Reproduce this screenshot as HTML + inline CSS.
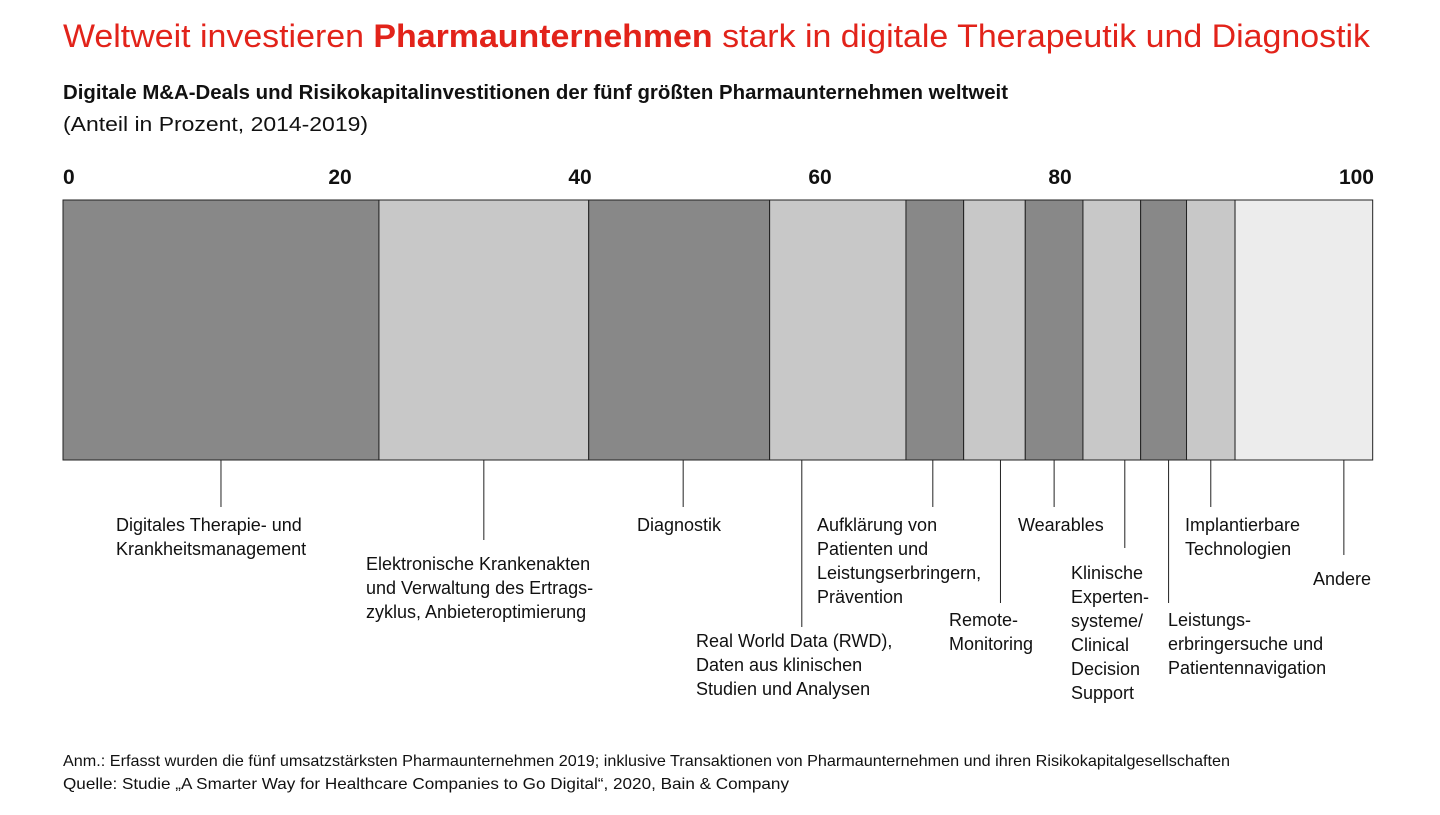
<!DOCTYPE html>
<html><head><meta charset="utf-8">
<style>
body{margin:0;width:1440px;height:810px;background:#fff;font-family:"Liberation Sans",sans-serif;overflow:hidden}
svg text{font-family:"Liberation Sans",sans-serif}
</style></head>
<body>
<svg width="1440" height="810">
<text x="63" y="47" font-size="32" fill="#e2231a" textLength="1307" lengthAdjust="spacingAndGlyphs">Weltweit investieren <tspan font-weight="bold">Pharmaunternehmen</tspan> stark in digitale Therapeutik und Diagnostik</text>
<text x="63" y="99" font-size="20" font-weight="bold" fill="#111" textLength="945" lengthAdjust="spacingAndGlyphs">Digitale M&amp;A-Deals und Risikokapitalinvestitionen der fünf größten Pharmaunternehmen weltweit</text>
<text x="63" y="131" font-size="20" fill="#111" textLength="305" lengthAdjust="spacingAndGlyphs">(Anteil in Prozent, 2014-2019)</text>
<g id="ticks"></g>
<g id="bars"></g>
<g id="labels"></g>
<text x="63" y="766" font-size="16" fill="#111" textLength="1167" lengthAdjust="spacingAndGlyphs">Anm.: Erfasst wurden die fünf umsatzstärksten Pharmaunternehmen 2019; inklusive Transaktionen von Pharmaunternehmen und ihren Risikokapitalgesellschaften</text>
<text x="63" y="789" font-size="16" fill="#111" textLength="726" lengthAdjust="spacingAndGlyphs">Quelle: Studie „A Smarter Way for Healthcare Companies to Go Digital“, 2020, Bain &amp; Company</text>
</svg>
<script>
const categories=[["Digitales Therapie- und","Krankheitsmanagement"],["Elektronische Krankenakten","und Verwaltung des Ertrags-","zyklus, Anbieteroptimierung"],["Diagnostik"],["Real World Data (RWD),","Daten aus klinischen","Studien und Analysen"],["Aufklärung von","Patienten und","Leistungserbringern,","Prävention"],["Remote-","Monitoring"],["Wearables"],["Klinische","Experten-","systeme/","Clinical","Decision","Support"],["Leistungs-","erbringersuche und","Patientennavigation"],["Implantierbare","Technologien"],["Andere"]];
const values=[24.1,16.0,13.8,10.4,4.4,4.7,4.4,4.4,3.5,3.7,10.5];
const shades=["#888888","#c8c8c8","#888888","#c8c8c8","#888888","#c8c8c8","#888888","#c8c8c8","#888888","#c8c8c8","#ececec"];
const tickValues=[0,20,40,60,80,100];
const tickLabels=["0","20","40","60","80","100"];
// annotation layout
const lineDx=[0,0,4,-36,-2,6,0,13,5,0,40];
const lineEnd=[507,540,507,627,507,603,507,548,603,507,555];
const labelX=[116,366,637,696,817,949,1018,1071,1168,1185,1313];
const labelY=[525,564,525,641,525,620,525,573,620,525,579];
const NS="http://www.w3.org/2000/svg";
const X0=63,X1=1374,Y0=200,Y1=460;
const x=v=>X0+(X1-X0)*v/100;
function mk(t,a,p){const e=document.createElementNS(NS,t);for(const k in a)e.setAttribute(k,a[k]);p.appendChild(e);return e;}
const tg=document.getElementById('ticks');
tickValues.forEach((v,i)=>{
 let xx,anchor="middle";
 if(i===0){xx=x(v);anchor="start";}else if(i===tickValues.length-1){xx=x(v);anchor="end";}else{xx=100+12*v;}
 const t=mk('text',{x:xx,y:184,'font-size':21,'font-weight':'bold','text-anchor':anchor,fill:'#111'},tg);
 t.textContent=tickLabels[i];
 
 
});
const bg=document.getElementById('bars'),lg=document.getElementById('labels');
let cum=0;
values.forEach((v,i)=>{
 const r=mk('rect',{x:x(cum),y:Y0,width:x(cum+v)-x(cum),height:Y1-Y0,fill:shades[i],stroke:'#222','stroke-width':1},bg);
 
 
 const lx=(x(cum)+x(cum+v))/2+lineDx[i];
 const l=mk('line',{x1:lx,y1:Y1,x2:lx,y2:lineEnd[i],stroke:'#222','stroke-width':1},lg);
 
 
 const t=mk('text',{x:labelX[i],y:labelY[i]+6,'font-size':18,fill:'#111'},lg);
 
 
 categories[i].forEach((s,j)=>{const ts=mk('tspan',{x:labelX[i],dy:j?24:0},t);ts.textContent=s;});
 cum+=v;
});
</script>
</body></html>
